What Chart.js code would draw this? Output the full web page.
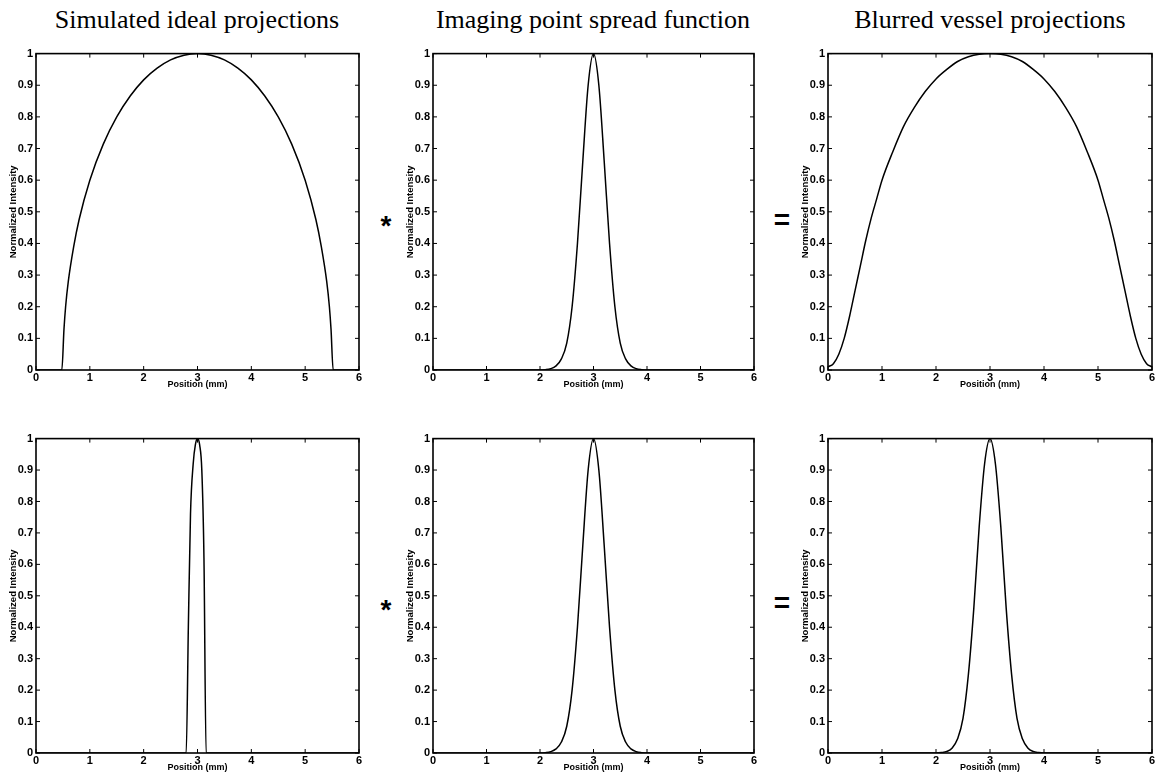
<!DOCTYPE html>
<html>
<head>
<meta charset="utf-8">
<script src="https://cdn.jsdelivr.net/npm/chart.js"></script>
<style>
  body { margin: 0; background: #fff; width: 1159px; height: 784px; position: relative; overflow: hidden; }
  .panel { position: absolute; }
  .head { position: absolute; top: 20px; transform: translate(-50%, -50%); white-space: nowrap;
          font-family: "Liberation Serif", "Times New Roman", serif; font-size: 26px; color: #000; }
  .op { position: absolute; transform: translate(-50%, -50%);
        font-family: "Liberation Sans", Arial, sans-serif; font-weight: bold; font-size: 28px; color: #000; }
</style>
</head>
<body>
<div class="head" style="left:197px">Simulated ideal projections</div>
<div class="head" style="left:593px">Imaging point spread function</div>
<div class="head" style="left:990px">Blurred vessel projections</div>

<div class="op" style="left:386px;top:226px">*</div>
<div class="op" style="left:782px;top:220px">=</div>
<div class="op" style="left:386px;top:610px">*</div>
<div class="op" style="left:782px;top:603px">=</div>

<div class="panel" id="p1"><canvas id="c1"></canvas></div>
<div class="panel" id="p2"><canvas id="c2"></canvas></div>
<div class="panel" id="p3"><canvas id="c3"></canvas></div>
<div class="panel" id="p4"><canvas id="c4"></canvas></div>
<div class="panel" id="p5"><canvas id="c5"></canvas></div>
<div class="panel" id="p6"><canvas id="c6"></canvas></div>

<script>
// tick values
const xTicks = [0, 1, 2, 3, 4, 5, 6];
const yTicks = [0, 0.1, 0.2, 0.3, 0.4, 0.5, 0.6, 0.7, 0.8, 0.9, 1];

// wide vessel, ideal projection (mm, normalized)
const wideIdealX = [0, 0.48, 0.52, 0.55, 0.6, 0.7, 0.8, 1.0, 1.25, 1.5, 1.75, 2.0, 2.25, 2.5, 2.75, 3.0,
                    3.25, 3.5, 3.75, 4.0, 4.25, 4.5, 4.75, 5.0, 5.2, 5.3, 5.4, 5.45, 5.48, 5.52, 6];
const wideIdealY = [0, 0, 0.13, 0.2, 0.28, 0.39, 0.475, 0.6, 0.714, 0.8, 0.866, 0.917, 0.954, 0.98, 0.995, 1,
                    0.995, 0.98, 0.954, 0.917, 0.866, 0.8, 0.714, 0.6, 0.475, 0.39, 0.28, 0.2, 0.13, 0, 0];

// point spread function
const psfX = [0, 2.0, 2.1, 2.2, 2.3, 2.4, 2.5, 2.6, 2.7, 2.8, 2.9, 3.0,
              3.1, 3.2, 3.3, 3.4, 3.5, 3.6, 3.7, 3.8, 3.9, 4.0, 6];
const psfY = [0, 0, 0.001, 0.004, 0.013, 0.035, 0.085, 0.2, 0.4, 0.66, 0.9, 1,
              0.9, 0.66, 0.4, 0.2, 0.085, 0.035, 0.013, 0.004, 0.001, 0, 0];

// wide vessel, blurred
const wideBlurX = [0, 0.1, 0.2, 0.3, 0.4, 0.5, 0.6, 0.7, 0.8, 0.9, 1.0, 1.2, 1.4, 1.6, 1.8, 2.0, 2.2, 2.4, 2.6, 2.8, 3.0,
                   3.2, 3.4, 3.6, 3.8, 4.0, 4.2, 4.4, 4.6, 4.8, 5.0, 5.1, 5.2, 5.3, 5.4, 5.5, 5.6, 5.7, 5.8, 5.9, 6.0];
const wideBlurY = [0.01, 0.02, 0.05, 0.1, 0.17, 0.25, 0.33, 0.41, 0.48, 0.54, 0.6, 0.69, 0.77, 0.83, 0.88, 0.92, 0.95, 0.975, 0.99, 0.998, 1,
                   0.998, 0.99, 0.975, 0.95, 0.92, 0.88, 0.83, 0.77, 0.69, 0.6, 0.54, 0.48, 0.41, 0.33, 0.25, 0.17, 0.1, 0.05, 0.02, 0.01];

// narrow vessel, ideal projection
const narrowIdealX = [0, 2.79, 2.83, 2.87, 2.92, 2.96, 3.0, 3.04, 3.08, 3.12, 3.16, 6];
const narrowIdealY = [0, 0, 0.4, 0.76, 0.92, 0.98, 1, 0.98, 0.9, 0.62, 0, 0];

// narrow vessel, blurred
const narrowBlurX = [0, 2.0, 2.1, 2.2, 2.3, 2.4, 2.5, 2.6, 2.7, 2.8, 2.9, 3.0,
                     3.1, 3.2, 3.3, 3.4, 3.5, 3.6, 3.7, 3.8, 3.9, 4.0, 6];
const narrowBlurY = [0, 0, 0.0015, 0.005, 0.016, 0.045, 0.11, 0.25, 0.46, 0.72, 0.92, 1,
                     0.92, 0.72, 0.46, 0.25, 0.11, 0.045, 0.016, 0.005, 0.0015, 0, 0];

// plot boxes in page pixels: left, top, right, bottom
const panels = [
  { id: 'p1', canvas: 'c1', xs: wideIdealX,   ys: wideIdealY,   box: [36, 52, 359, 370] },
  { id: 'p2', canvas: 'c2', xs: psfX,         ys: psfY,         box: [433, 52, 754, 370] },
  { id: 'p3', canvas: 'c3', xs: wideBlurX,    ys: wideBlurY,    box: [828, 52, 1152, 370] },
  { id: 'p4', canvas: 'c4', xs: narrowIdealX, ys: narrowIdealY, box: [36, 437, 359, 753] },
  { id: 'p5', canvas: 'c5', xs: psfX,         ys: psfY,         box: [433, 437, 754, 753] },
  { id: 'p6', canvas: 'c6', xs: narrowBlurX,  ys: narrowBlurY,  box: [828, 437, 1152, 753] },
];

const Y_W = 36, X_H = 30, PAD_T = 8, PAD_R = 6;

// matlab-style box with inward ticks on all four sides
const boxTicks = {
  id: 'boxTicks',
  afterDraw(chart) {
    const { ctx, chartArea: a, scales: { x, y } } = chart;
    ctx.save();
    ctx.strokeStyle = '#000';
    ctx.lineWidth = 1;
    ctx.beginPath();
    x.ticks.forEach(t => {
      const px = x.getPixelForValue(t.value);
      ctx.moveTo(px, a.bottom); ctx.lineTo(px, a.bottom - 4);
      ctx.moveTo(px, a.top); ctx.lineTo(px, a.top + 4);
    });
    y.ticks.forEach(t => {
      const py = y.getPixelForValue(t.value);
      ctx.moveTo(a.left, py); ctx.lineTo(a.left + 4, py);
      ctx.moveTo(a.right, py); ctx.lineTo(a.right - 4, py);
    });
    ctx.stroke();
    ctx.lineWidth = 1.6;
    ctx.strokeRect(a.left, a.top, a.right - a.left, a.bottom - a.top);
    ctx.restore();
  }
};

const tickFont = { family: '"Liberation Sans", Arial, sans-serif', size: 11, weight: 'bold' };
const xTitleFont = { family: '"Liberation Sans", Arial, sans-serif', size: 9, weight: 'bold' };
const yTitleFont = { family: '"Liberation Sans", Arial, sans-serif', size: 9.5, weight: 'bold' };
const fmt = v => String(Number(v.toFixed(1)));

panels.forEach(p => {
  const [l, t, r, b] = p.box;
  const div = document.getElementById(p.id);
  div.style.left = (l - Y_W) + 'px';
  div.style.top = (t - PAD_T) + 'px';
  div.style.width = (r - l + Y_W + PAD_R) + 'px';
  div.style.height = (b - t + PAD_T + X_H) + 'px';

  new Chart(document.getElementById(p.canvas), {
    type: 'line',
    data: {
      datasets: [{
        data: p.xs.map((x, i) => ({ x: x, y: p.ys[i] })),
        borderColor: '#000',
        borderWidth: 1.5,
        pointRadius: 0,
        fill: false,
        cubicInterpolationMode: 'monotone'
      }]
    },
    options: {
      responsive: true,
      maintainAspectRatio: false,
      animation: false,
      layout: { padding: { top: PAD_T, right: PAD_R, left: 0, bottom: 0 } },
      plugins: { legend: { display: false }, tooltip: { enabled: false } },
      scales: {
        x: {
          type: 'linear', min: 0, max: 6,
          afterBuildTicks: s => { s.ticks = xTicks.map(v => ({ value: v })); },
          afterFit: s => { s.height = X_H; },
          grid: { display: false, drawTicks: false },
          border: { display: false },
          ticks: { font: tickFont, color: '#000', padding: 1, maxRotation: 0, callback: fmt },
          title: { display: true, text: 'Position (mm)', font: xTitleFont, color: '#000', padding: { top: 0, bottom: 10 } }
        },
        y: {
          type: 'linear', min: 0, max: 1,
          afterBuildTicks: s => { s.ticks = yTicks.map(v => ({ value: v })); },
          afterFit: s => { s.width = Y_W; },
          grid: { display: false, drawTicks: false },
          border: { display: false },
          ticks: { font: tickFont, color: '#000', padding: 3, callback: fmt },
          title: { display: true, text: 'Normalized Intensity', font: yTitleFont, color: '#000', padding: { top: 8, bottom: 0 } }
        }
      }
    },
    plugins: [boxTicks]
  });
});
</script>
</body>
</html>
